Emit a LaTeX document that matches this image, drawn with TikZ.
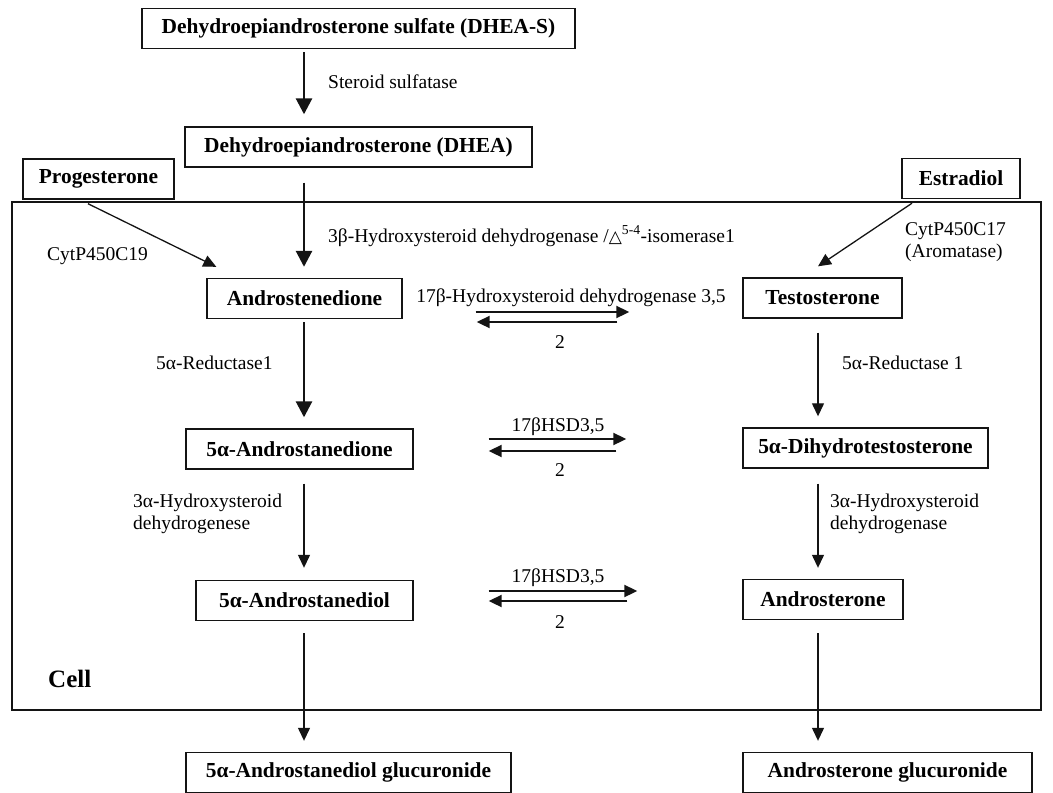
\documentclass[tikz,border=0pt]{standalone}
\usepackage{fontspec}
\setmainfont{Liberation Serif}
\newfontfamily\symf{DejaVu Sans}
\usepackage{tikz}
\usetikzlibrary{arrows.meta, positioning, calc}
\definecolor{linecolor}{RGB}{20,20,20}

\begin{document}
\begin{tikzpicture}[
    x=1pt, y=-1pt,
    compound/.style={draw=linecolor, line width=1.4pt, minimum height=40pt, inner sep=0pt, font=\fontsize{21.4pt}{25pt}\selectfont\bfseries},
    enzyme/.style={inner sep=0pt, anchor=west, align=left, font=\fontsize{19.5pt}{22pt}\selectfont},
    boldflow/.style={-{Triangle[length=16pt,width=16pt]}, line width=2.8pt, linecolor},
    thinflow/.style={-{Triangle[length=13pt,width=12pt]}, line width=1.3pt, linecolor},
    react/.style={-{Triangle[length=13pt,width=12pt]}, line width=2pt, linecolor}
]
    \useasboundingbox (0,0) rectangle (1053,793);

    % Cell
    \draw[linecolor, line width=1.4pt] (12,202) rectangle (1041,710);
    \node[enzyme, font=\fontsize{25pt}{28pt}\selectfont\bfseries] (cell) at (48,679) {Cell};

    % Columns
    \coordinate (colL) at (304,0);
    \coordinate (colR) at (818,0);

    % Compounds
    \node[compound, minimum width=433pt] (dheas) at (358.5,28.5) {Dehydroepiandrosterone sulfate (DHEA-S)};
    \node[compound, minimum width=347pt] (dhea) at (358.5,147) {Dehydroepiandrosterone (DHEA)};
    \node[compound, minimum width=151pt] (prog) at (98.5,179) {Progesterone};
    \node[compound, minimum width=118pt] (estr) at (961,178.5) {Estradiol};
    \node[compound, minimum width=195pt] (andro) at (304.5,298.5) {Androstenedione};
    \node[compound, minimum width=159pt] (testo) at (822.5,298) {Testosterone};
    \node[compound, minimum width=227pt] (adione) at (299.5,449) {5α-Androstanedione};
    \node[compound, minimum width=245pt] (dht) at (865.5,448) {5α-Dihydrotestosterone};
    \node[compound, minimum width=217pt] (adiol) at (304.5,600.5) {5α-Androstanediol};
    \node[compound, minimum width=160pt] (ands) at (823,599.5) {Androsterone};
    \node[compound, minimum width=325pt] (adiolg) at (348.5,772.5) {5α-Androstanediol glucuronide};
    \node[compound, minimum width=289pt] (andsg) at (887.5,772.5) {Androsterone glucuronide};

    % Enzymes
    \node[enzyme] (sulf) at (328,82) {Steroid sulfatase};
    \node[enzyme] (hsd3b) at (328,236) {3β-Hydroxysteroid dehydrogenase /{\symf\fontsize{17pt}{20pt}\selectfont △}\textsuperscript{5-4}-isomerase1};
    \node[enzyme] (c19) at (47,256) {CytP450C19};
    \node[enzyme] (c17) at (905,242.5) {CytP450C17\\(Aromatase)};
    \node[enzyme] (redL) at (156,363) {5α-Reductase1};
    \node[enzyme] (redR) at (842,363) {5α-Reductase 1};
    \node[enzyme] (hsd3aL) at (133,514) {3α-Hydroxysteroid\\dehydrogenese};
    \node[enzyme] (hsd3aR) at (830,514) {3α-Hydroxysteroid\\dehydrogenase};
    \node[enzyme, anchor=center] (hsd17a) at (571,298) {17β-Hydroxysteroid dehydrogenase 3,5};
    \node[enzyme, anchor=center] (rev1) at (560,342) {2};
    \node[enzyme, anchor=center] (hsd17b) at (558,427) {17βHSD3,5};
    \node[enzyme, anchor=center] (rev2) at (560,470) {2};
    \node[enzyme, anchor=center] (hsd17c) at (558,578) {17βHSD3,5};
    \node[enzyme, anchor=center] (rev3) at (560,622) {2};

    % Flows
    \draw[boldflow, shorten <=3pt, shorten >=12pt] (dheas.south -| colL) -- (dhea.north -| colL);
    \draw[boldflow, shorten <=15pt, shorten >=11pt] (dhea.south -| colL) -- (andro.north -| colL);
    \draw[boldflow, shorten <=3pt, shorten >=11pt] (andro.south -| colL) -- (adione.north -| colL);
    \draw[thinflow, shorten <=14pt, shorten >=12pt] (adione.south -| colL) -- (adiol.north -| colL);
    \draw[thinflow, shorten <=12pt, shorten >=11pt] (adiol.south -| colL) -- (adiolg.north -| colL);
    \draw[thinflow, shorten <=14pt, shorten >=11pt] (testo.south -| colR) -- (dht.north -| colR);
    \draw[thinflow, shorten <=15pt, shorten >=11pt] (dht.south -| colR) -- (ands.north -| colR);
    \draw[thinflow, shorten <=13pt, shorten >=11pt] (ands.south -| colR) -- (andsg.north -| colR);
    \draw[thinflow] ([xshift=-10.5pt,yshift=-4pt]prog.south) -- ([xshift=10pt,yshift=11pt]andro.north west);
    \draw[thinflow] ([xshift=-49pt,yshift=-4pt]estr.south) -- ([xshift=-4.5pt,yshift=11pt]testo.north);

    % Reversible steps
    \draw[react] ([xshift=73pt,yshift=-13.5pt]andro.east) -- ([xshift=-113pt,yshift=-14pt]testo.west);
    \draw[react] ([xshift=-125pt,yshift=-24pt]testo.west) -- ([xshift=74pt,yshift=-23.5pt]andro.east);
    \draw[react] ([xshift=75pt,yshift=10pt]adione.east) -- ([xshift=-116pt,yshift=9pt]dht.west);
    \draw[react] ([xshift=-126pt,yshift=-3pt]dht.west) -- ([xshift=75pt,yshift=-2pt]adione.east);
    \draw[react] ([xshift=75pt,yshift=9.5pt]adiol.east) -- ([xshift=-105pt,yshift=8.5pt]ands.west);
    \draw[react] ([xshift=-115pt,yshift=-1.5pt]ands.west) -- ([xshift=75pt,yshift=-0.5pt]adiol.east);
\end{tikzpicture}
\end{document}
